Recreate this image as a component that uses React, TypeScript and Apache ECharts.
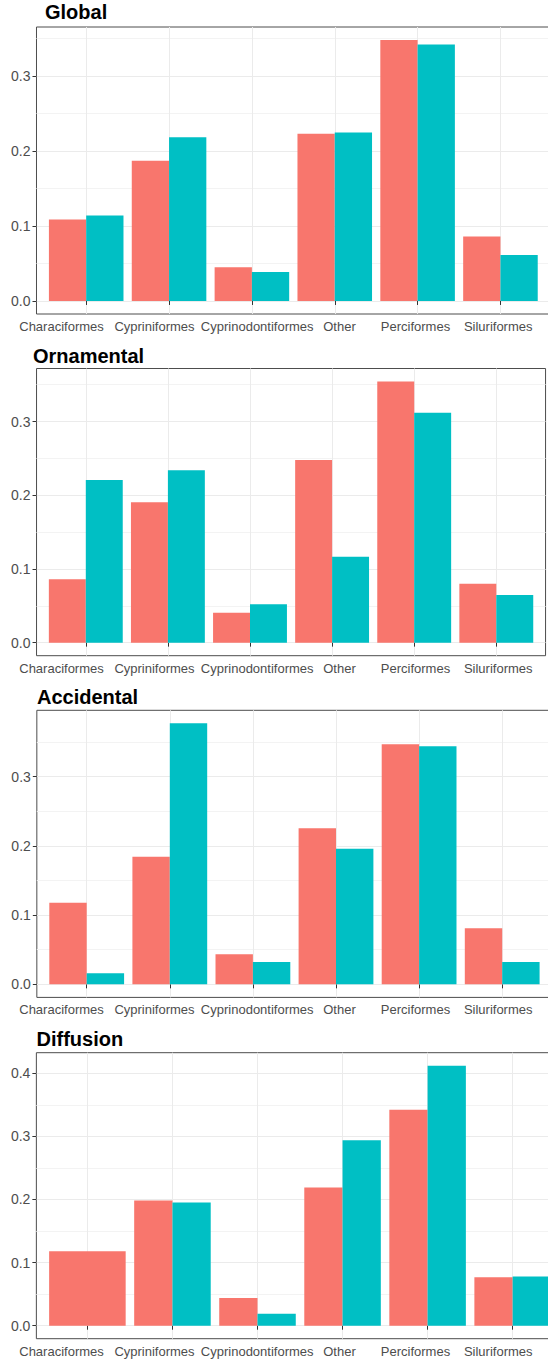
import React, { useEffect, useRef } from 'react';
import * as echarts from 'echarts';

// ---------- data ----------
const categories = ['Characiformes', 'Cypriniformes', 'Cyprinodontiformes', 'Other', 'Perciformes', 'Siluriformes'];
const panelTitles = ['Global', 'Ornamental', 'Accidental', 'Diffusion'];
const groupNames = ['Group 1', 'Group 2'];

const globalRed = [0.1086, 0.187, 0.045, 0.223, 0.348, 0.0859];
const globalCyan = [0.114, 0.2185, 0.0387, 0.2247, 0.342, 0.0614];
const ornamentalRed = [0.086, 0.1905, 0.0407, 0.248, 0.3543, 0.08];
const ornamentalCyan = [0.2208, 0.234, 0.052, 0.1167, 0.3118, 0.0647];
const accidentalRed = [0.118, 0.1844, 0.0433, 0.2253, 0.3467, 0.0809];
const accidentalCyan = [0.0159, 0.377, 0.0323, 0.196, 0.3438, 0.0323];
const diffusionRed = [0.1179, 0.1984, 0.0437, 0.219, 0.342, 0.0768];
const diffusionCyan: (number | null)[] = [null, 0.1953, 0.0189, 0.2937, 0.412, 0.0779];

const yTicksShort = [0, 0.1, 0.2, 0.3];
const yTicksTall = [0, 0.1, 0.2, 0.3, 0.4];

// ---------- styling / layout ----------
const RED = '#F8766D';
const CYAN = '#00BFC4';
const FONT = '"Liberation Sans", Arial, Helvetica, sans-serif';

const layouts = [
  { titleLeft: 45, titleTop: 2, frameTop: 27, frameBottom: 314, firstTick: 86.2, step: 82.85 },
  { titleLeft: 33, titleTop: 346, frameTop: 368.5, frameBottom: 655.7, firstTick: 85.8, step: 82.1 },
  { titleLeft: 37, titleTop: 687, frameTop: 710.3, frameBottom: 997.4, firstTick: 86.7, step: 83.1 },
  { titleLeft: 36.5, titleTop: 1029, frameTop: 1052.7, frameBottom: 1338.7, firstTick: 87.4, step: 85.05 },
];
const labelCenters = [61.5, 154.5, 257.2, 339.5, 415.5, 498.2];

const panels = [
  { red: globalRed, cyan: globalCyan, ticks: yTicksShort },
  { red: ornamentalRed, cyan: ornamentalCyan, ticks: yTicksShort },
  { red: accidentalRed, cyan: accidentalCyan, ticks: yTicksShort },
  { red: diffusionRed, cyan: diffusionCyan, ticks: yTicksTall },
];

function buildOption() {
  const grids: any[] = [];
  const xAxes: any[] = [];
  const yAxes: any[] = [];
  const series: any[] = [];
  const titles: any[] = [];

  panels.forEach((p, i) => {
    const L = layouts[i];
    const vals = [...p.red, ...p.cyan].filter((v) => v != null) as number[];
    const maxV = Math.max(...vals);
    const yMin = -0.05 * maxV;
    const yMax = 1.05 * maxV;
    const h = L.frameBottom - L.frameTop;

    titles.push({
      text: panelTitles[i],
      left: L.titleLeft,
      top: L.titleTop,
      padding: 0,
      textStyle: { fontSize: 20, fontWeight: 'bold', color: '#000', fontFamily: FONT },
    });

    const outer = grids.length;
    grids.push({
      left: L.firstTick - 0.6 * L.step,
      width: 6.2 * L.step,
      top: L.frameTop,
      height: h,
      show: true,
      borderColor: '#4d4d4d',
      borderWidth: 1,
      backgroundColor: 'transparent',
      containLabel: false,
      outerBoundsMode: 'none',
    });
    const inner = grids.length;
    grids.push({
      left: L.firstTick - 0.5 * L.step,
      width: 6 * L.step,
      top: L.frameTop,
      height: h,
      show: false,
      containLabel: false,
      outerBoundsMode: 'none',
    });

    // outer axes: y labels, ticks, horizontal grid lines
    xAxes.push({ type: 'value', gridIndex: outer, min: 0, max: 1, show: false });
    const outerY = yAxes.length;
    yAxes.push({
      type: 'value',
      gridIndex: outer,
      min: yMin,
      max: yMax,
      minInterval: 0.1,
      maxInterval: 0.1,
      axisLine: { show: false },
      axisTick: { show: true, length: 4, customValues: p.ticks, lineStyle: { color: '#333', width: 1 } },
      axisLabel: {
        customValues: p.ticks,
        margin: 6,
        fontSize: 14,
        color: '#4d4d4d',
        fontFamily: FONT,
        formatter: (v: number) => v.toFixed(1),
      },
      splitLine: { show: true, lineStyle: { color: '#ebebeb', width: 1 } },
      minorTick: { show: false, splitNumber: 2 },
      minorSplitLine: { show: true, lineStyle: { color: '#f3f3f3', width: 1 } },
    });

    // inner axes: categories + bars
    const shifts = categories.map((_, k) => labelCenters[k] - (L.firstTick + k * L.step));
    const rich: any = {};
    shifts.forEach((d, k) => {
      rich['s' + k] = {
        fontSize: 13,
        color: '#4d4d4d',
        fontFamily: FONT,
        padding: d < 0 ? [0, -2 * d, 0, 0] : [0, 0, 0, 2 * d],
      };
    });
    const innerX = xAxes.length;
    xAxes.push({
      type: 'category',
      gridIndex: inner,
      data: categories,
      boundaryGap: true,
      axisLine: { show: false },
      axisTick: { show: true, alignWithLabel: true, length: 4, lineStyle: { color: '#333', width: 1 } },
      axisLabel: {
        interval: 0,
        margin: 6,
        hideOverlap: false,
        formatter: (v: string, idx: number) => `{s${idx}|${v}}`,
        rich,
      },
      splitLine: { show: true, alignWithLabel: true, lineStyle: { color: '#ebebeb', width: 1 } },
    });
    const innerY = yAxes.length;
    yAxes.push({ type: 'value', gridIndex: inner, min: yMin, max: yMax, show: false, splitLine: { show: false } });

    const hasMissing = p.cyan.some((v) => v == null);
    const redData = p.red.map((v, k) => (p.cyan[k] == null ? null : v));
    series.push({
      name: groupNames[0],
      type: 'bar',
      xAxisIndex: innerX,
      yAxisIndex: innerY,
      data: redData,
      barGap: '0%',
      barCategoryGap: '10%',
      itemStyle: { color: RED },
    });
    series.push({
      name: groupNames[1],
      type: 'bar',
      xAxisIndex: innerX,
      yAxisIndex: innerY,
      data: p.cyan,
      barGap: '0%',
      barCategoryGap: '10%',
      itemStyle: { color: CYAN },
    });
    if (hasMissing) {
      const soloX = xAxes.length;
      xAxes.push({ type: 'category', gridIndex: inner, data: categories, boundaryGap: true, show: false });
      series.push({
        name: groupNames[0],
        type: 'bar',
        xAxisIndex: soloX,
        yAxisIndex: innerY,
        data: p.red.map((v, k) => (p.cyan[k] == null ? v : null)),
        barWidth: '90%',
        itemStyle: { color: RED },
      });
    }
  });

  return {
    animation: false,
    backgroundColor: '#ffffff',
    textStyle: { fontFamily: FONT },
    title: titles,
    grid: grids,
    xAxis: xAxes,
    yAxis: yAxes,
    series,
    tooltip: { show: false },
  };
}

export default function App() {
  const ref = useRef<HTMLDivElement>(null);
  useEffect(() => {
    if (!ref.current) return;
    const chart = echarts.init(ref.current, undefined, { renderer: 'svg' });
    chart.setOption(buildOption() as any);
    return () => chart.dispose();
  }, []);
  return (
    <div
      ref={ref}
      style={{ position: 'absolute', left: 0, top: 0, width: 548, height: 1362, background: '#fff' }}
    />
  );
}
